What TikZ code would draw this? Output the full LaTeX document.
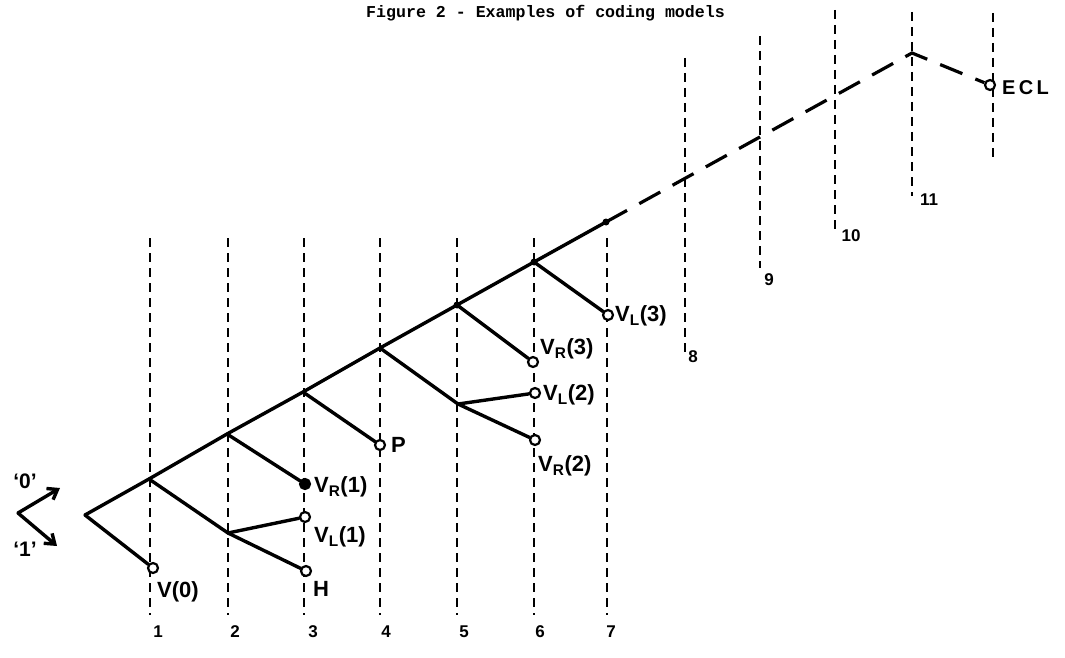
\documentclass[tikz,border=0pt]{standalone}
\usepackage{fontspec}
\setmainfont{Liberation Sans}
\newfontfamily\monof{Liberation Mono}
\usetikzlibrary{arrows.meta}
\begin{document}
\begin{tikzpicture}[x=1pt,y=-1pt,
  vline/.style={line width=2.6pt, dash pattern=on 9pt off 6pt},
  branch/.style={line width=3.4pt, line cap=round, line join=round},
  dline/.style={line width=3.2pt, dash pattern=on 24pt off 14pt},
  leaf/.style={circle, draw, line width=2.2pt, inner sep=0pt, minimum size=10pt, fill=white},
  fleaf/.style={leaf, fill=black},
  jdot/.style={circle, fill=black, inner sep=0pt, minimum size=7pt},
  lab/.style={font=\fontsize{22}{22}\selectfont\bfseries, anchor=west, inner sep=0pt},
  num/.style={font=\fontsize{17}{17}\selectfont\bfseries, inner sep=0pt},
  io/.style={font=\fontsize{21}{21}\selectfont\bfseries, inner sep=0pt},
  ttl/.style={font=\monof\bfseries\fontsize{16.6}{16.6}\selectfont, anchor=west, inner sep=0pt},
]
\useasboundingbox (0,0) rectangle (1065,658);

% title
\node[ttl] (title) at (366,13) {Figure 2 - Examples of coding models};

% vertical dashed lines
\foreach \i/\x/\t/\b in {1/150/238/615, 2/228/238/615, 3/304/238/615, 4/380/238/615,
  5/457/238/615, 6/534/238/615, 7/607/238/615, 8/685/58/352, 9/760/36/268,
  10/835/10/232, 11/912/12/196, 12/993/13/157}{
  \coordinate (t\i) at (\x,\t);
  \coordinate (b\i) at (\x,\b);
  \draw[vline] (t\i) -- (b\i);
}

% numbers
\node[num] (n1) at (158,632) {1};
\node[num] (n2) at (235,632) {2};
\node[num] (n3) at (313,632) {3};
\node[num] (n4) at (386,632) {4};
\node[num] (n5) at (464,632) {5};
\node[num] (n6) at (540,632) {6};
\node[num] (n7) at (611,632) {7};
\node[num] (n8) at (693,357) {8};
\node[num] (n9) at (769,280) {9};
\node[num] (n10) at (851,236) {10};
\node[num] (n11) at (929,200) {11};

% junctions
\coordinate (j0) at (85,515);
\coordinate (j1) at (149,479);
\coordinate (j2) at (227,434);
\coordinate (j3) at (303,392);
\coordinate (j4) at (380,348);
\coordinate (j5) at (457,305);
\coordinate (j6) at (534,262);
\coordinate (j7) at (606,222);
\coordinate (j11) at (912,53);
\coordinate (k2) at (228,533);
\coordinate (k5) at (458,404);

% leaves
\node[leaf] (V0) at (153,568) {};
\node[fleaf] (VR1) at (305,484) {};
\node[leaf] (VL1) at (305,517) {};
\node[leaf] (H) at (306,571) {};
\node[leaf] (P) at (380,445) {};
\node[leaf] (VR3) at (533,362) {};
\node[leaf] (VL2) at (535,393) {};
\node[leaf] (VR2) at (535,440) {};
\node[leaf] (VL3) at (608,315) {};
\node[leaf] (ECL) at (990,85) {};

% main spine
\draw[branch] (j0) -- (j1) -- (j2) -- (j3) -- (j4) -- (j5) -- (j6) -- (j7);
\draw[dline] (j7) -- (j11) -- (ECL);
\node[jdot] (d5) at (j5) {};
\node[jdot] (d6) at (j6) {};
\node[jdot] (d7) at (j7) {};

% branches
\draw[branch] (j0) -- (V0);
\draw[branch] (j1) -- (k2);
\draw[branch] (k2) -- (VL1);
\draw[branch] (k2) -- (H);
\draw[branch] (j2) -- (VR1);
\draw[branch] (j3) -- (P);
\draw[branch] (j4) -- (k5);
\draw[branch] (k5) -- (VL2);
\draw[branch] (k5) -- (VR2);
\draw[branch] (j5) -- (VR3);
\draw[branch] (j6) -- (VL3);

% labels
\node[lab] (lV0) at (157,592) {V(0)};
\node[lab] (lH) at (313,589) {H};
\node[lab] (lVR1) at (314,487) {V\textsubscript{R}(1)};
\node[lab] (lVL1) at (314,537) {V\textsubscript{L}(1)};
\node[lab] (lP) at (391,445) {P};
\node[lab] (lVR3) at (540,349) {V\textsubscript{R}(3)};
\node[lab] (lVL2) at (543,395) {V\textsubscript{L}(2)};
\node[lab] (lVR2) at (538,466) {V\textsubscript{R}(2)};
\node[lab] (lVL3) at (615,316) {V\textsubscript{L}(3)};
\node[lab, font=\fontsize{20}{20}\selectfont\bfseries] (lECL) at (1002,88) {E\,C\,L};

% input arrows
\coordinate (ar) at (18,513);
\coordinate (a0) at (60,488);
\coordinate (a1) at (57,546);
\draw[branch, -{Straight Barb[length=9pt,width=13pt]}] (ar) -- (a0);
\draw[branch, -{Straight Barb[length=9pt,width=13pt]}] (ar) -- (a1);
\node[io] (q0) at (25,481) {\textquoteleft0\textquoteright};
\node[io] (q1) at (25,549) {\textquoteleft1\textquoteright};
\end{tikzpicture}
\end{document}
